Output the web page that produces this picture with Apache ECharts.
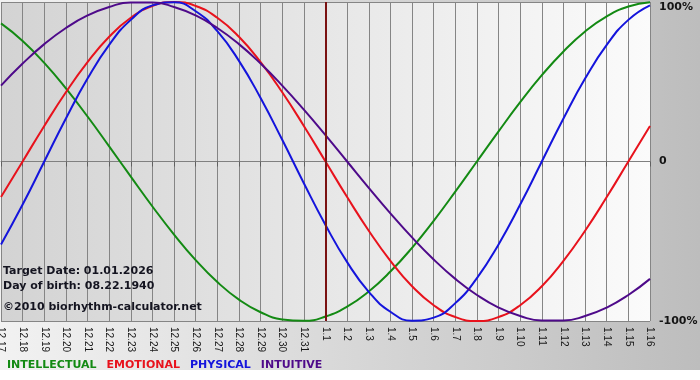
<!DOCTYPE html>
<html>
<head>
<meta charset="utf-8">
<script src="https://cdn.jsdelivr.net/npm/echarts@6/dist/echarts.min.js"></script>
<style>html,body{margin:0;padding:0;background:#fff}#c{width:700px;height:380px}</style>
</head>
<body>
<div id="c"></div>
<script>
var categories = ['12.17','12.18','12.19','12.20','12.21','12.22','12.23','12.24','12.25','12.26','12.27','12.28','12.29','12.30','12.31',
  '1.1','1.2','1.3','1.4','1.5','1.6','1.7','1.8','1.9','1.10','1.11','1.12','1.13','1.14','1.15','1.16'];

var intellectual = [0.866,0.756,0.618,0.458,0.282,0.095,-0.095,-0.282,-0.458,-0.618,-0.756,-0.866,-0.945,-0.990,-0.999,
  -0.972,-0.910,-0.815,-0.690,-0.541,-0.372,-0.189,0,0.189,0.372,0.541,0.690,0.815,0.910,0.972,0.999];
var emotional = [-0.223,0,0.223,0.434,0.623,0.782,0.901,0.975,1,0.975,0.901,0.782,0.623,0.434,0.223,
  0,-0.223,-0.434,-0.623,-0.782,-0.901,-0.975,-1,-0.975,-0.901,-0.782,-0.623,-0.434,-0.223,0,0.223];
var physical = [-0.520,-0.270,0,0.270,0.520,0.731,0.888,0.979,0.998,0.942,0.817,0.631,0.398,0.136,-0.136,
  -0.398,-0.631,-0.817,-0.942,-0.998,-0.979,-0.888,-0.731,-0.520,-0.270,0,0.270,0.520,0.731,0.888,0.979];
var intuitive = [0.476,0.614,0.736,0.837,0.916,0.969,0.997,0.997,0.969,0.916,0.837,0.736,0.614,0.476,0.325,
  0.165,0,-0.165,-0.325,-0.476,-0.614,-0.736,-0.837,-0.916,-0.969,-0.997,-0.997,-0.969,-0.916,-0.837,-0.736];

var targetDay = '1.1';
var yTicks = {'1':'100%','0':'0','-1':'-100%'};
var seriesNames = ['INTELLECTUAL','EMOTIONAL','PHYSICAL','INTUITIVE'];
var seriesColors = ['#138a13','#e8121c','#1414dc','#4e0a8a'];
var seriesData = [intellectual, emotional, physical, intuitive];
var infoLines = ['Target Date: 01.01.2026','Day of birth: 08.22.1940','\u00a92010 biorhythm-calculator.net'];

var chart = echarts.init(document.getElementById('c'), null, {renderer:'canvas'});
var font = 'DejaVu Sans';

var series = seriesNames.map(function(n,i){
  var s = {
    name: n, type: 'line', data: seriesData[i], smooth: true, showSymbol: false, symbol: 'none',
    lineStyle: {color: seriesColors[i], width: 2}, itemStyle: {color: seriesColors[i]},
    silent: true, animation: false, z: 3
  };
  if (i === 0) {
    s.markLine = {
      silent: true, symbol: ['none','none'], label: {show:false},
      lineStyle: {color:'#7a1212', width: 2, type: 'solid'},
      data: [{xAxis: targetDay}], animation: false
    };
  }
  return s;
});

var option = {
  backgroundColor: '#ffffff',
  animation: false,
  graphic: [
    {type:'rect', z:-10, shape:{x:0,y:0,width:700,height:370},
      style:{fill: new echarts.graphic.LinearGradient(0,0,1,0,[{offset:0,color:'#f2f2f2'},{offset:1,color:'#bdbdbd'}])}},
    {type:'text', left:3, top:266, z:10, style:{text:infoLines[0], font:'bold 11px "DejaVu Sans"', fill:'#141420'}},
    {type:'text', left:3, top:281, z:10, style:{text:infoLines[1], font:'bold 11px "DejaVu Sans"', fill:'#141420'}},
    {type:'text', left:3, top:302, z:10, style:{text:infoLines[2], font:'bold 11px "DejaVu Sans"', fill:'#141420'}}
  ],
  grid: {left:1, right:50, top:2, bottom:59, show:true, borderWidth:0, containLabel:false, outerBoundsMode:'none',
    backgroundColor: new echarts.graphic.LinearGradient(0,0,1,0,[{offset:0,color:'#d3d3d3'},{offset:1,color:'#fbfbfb'}])},
  legend: {
    left: -3, top: 355, icon: 'none', itemWidth: 0, itemHeight: 10, itemGap: 5, selectedMode: false,
    textStyle: {fontFamily: font, fontWeight:'bold', fontSize: 11},
    data: seriesNames.map(function(n,i){ return {name:n, textStyle:{color:seriesColors[i], fontFamily:font, fontWeight:'bold', fontSize:11}}; })
  },
  xAxis: {
    type:'category', data: categories, boundaryGap:false,
    axisLine:{show:true, lineStyle:{color:'#808080', width:1}},
    axisTick:{show:true, length:5, interval:0, lineStyle:{color:'#606060'}},
    axisLabel:{rotate:-90, interval:0, margin:6, fontFamily:'Liberation Sans', fontSize:10, color:'#181818'},
    splitLine:{show:true, interval:0, lineStyle:{color:'#858585', width:1}}
  },
  yAxis: {
    type:'value', position:'right', min:-1, max:1, interval:1,
    axisLine:{show:false}, axisTick:{show:false},
    axisLabel:{margin:9, fontFamily:font, fontWeight:'bold', fontSize:11, color:'#141414',
      verticalAlignMaxLabel:'top',
      formatter:function(v){ return yTicks[String(Math.round(v))]; }},
    splitLine:{show:true, lineStyle:{color:'#858585', width:1}}
  },
  series: series
};
chart.setOption(option);
</script>
</body>
</html>
